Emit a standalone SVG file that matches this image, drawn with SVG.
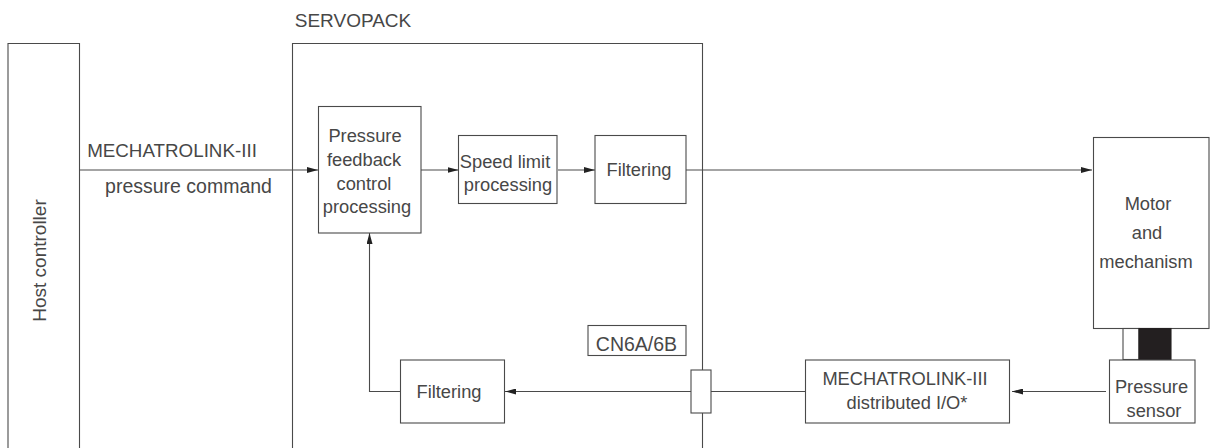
<svg xmlns="http://www.w3.org/2000/svg" width="1213" height="448" viewBox="0 0 1213 448">
<style>
rect,.f{fill:#fff;stroke:#4a4a4a;stroke-width:1.1}
.c{fill:none;stroke:#4a4a4a;stroke-width:1.1}
text{font-family:"Liberation Sans",Arial,sans-serif;font-size:18.3px;fill:#474747;text-anchor:middle}
.lg{font-size:19px}
.xl{font-size:19.5px}
</style>
<defs><marker id="a" markerUnits="userSpaceOnUse" markerWidth="11" markerHeight="6" refX="11" refY="3" orient="auto"><path d="M0 0L11 3L0 6Z" fill="#222"/></marker></defs>
<g id="host"><path class="c" d="M8 448V43.500H79.500V448"/><text class="lg" transform="translate(46,260.500) rotate(-90)">Host controller</text></g>
<g id="servopack"><path class="c" d="M292.500 448V43.500H702.500V448"/><text class="lg" x="353" y="27">SERVOPACK</text></g>
<g id="connectors">
<path class="c" d="M79.500 170H318" marker-end="url(#a)"/>
<path class="c" d="M421 170H458.500" marker-end="url(#a)"/>
<path class="c" d="M558 170H595" marker-end="url(#a)"/>
<path class="c" d="M686 170H1092" marker-end="url(#a)"/>
<path class="c" d="M805.500 391.500H505" marker-end="url(#a)"/>
<path class="c" d="M1106 391.500H1012" marker-end="url(#a)"/>
<path class="c" d="M400.500 391.500H369.500V233" marker-end="url(#a)"/>
</g>
<g id="feedback"><rect x="318.500" y="106.500" width="102.500" height="126.500"/><text><tspan x="365" y="141.500">Pressure</tspan><tspan x="364" y="165.500">feedback</tspan><tspan x="364" y="189.500">control</tspan><tspan x="367" y="213">processing</tspan></text></g>
<g id="speed"><rect x="458.500" y="135.500" width="98.500" height="68"/><text><tspan x="505" y="167.500">Speed limit</tspan><tspan x="508" y="191">processing</tspan></text></g>
<g id="filter1"><rect x="595" y="135.500" width="91" height="68"/><text x="639" y="176">Filtering</text></g>
<g id="filter2"><rect x="400.500" y="360" width="104" height="63"/><text x="449" y="398">Filtering</text></g>
<g id="cn"><rect x="588" y="325.500" width="98" height="30"/><text class="xl" x="636.500" y="351">CN6A/6B</text></g>
<g id="conn"><rect x="691" y="370" width="20" height="43"/></g>
<g id="io"><rect x="805.500" y="360" width="204" height="63"/><text><tspan x="905" y="385">MECHATROLINK-III</tspan><tspan x="907" y="409">distributed I/O*</tspan></text></g>
<g id="motor"><rect x="1093.500" y="137.500" width="115.500" height="191"/><text><tspan x="1148" y="210">Motor</tspan><tspan x="1147" y="239">and</tspan><tspan x="1146" y="268">mechanism</tspan></text></g>
<g id="shaft"><rect x="1123" y="328.500" width="16" height="31"/><rect x="1139" y="328.500" width="32" height="31" style="fill:#231f20;stroke:#231f20"/></g>
<g id="sensor"><rect x="1109.500" y="360" width="85.500" height="63"/><text><tspan x="1151.500" y="393">Pressure</tspan><tspan x="1154" y="417">sensor</tspan></text></g>
<g id="labels"><text style="font-size:18.800px" x="172" y="157">MECHATROLINK-III</text><text class="xl" x="188.500" y="193">pressure command</text></g>
</svg>
